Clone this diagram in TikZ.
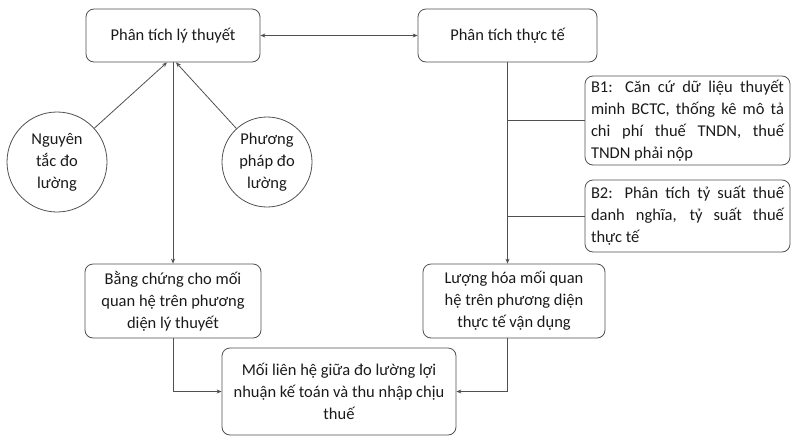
\documentclass[tikz,border=0pt]{standalone}
\usepackage{fontspec}
\setmainfont{Carlito}
\usetikzlibrary{arrows.meta,calc}
\definecolor{lin}{HTML}{505050}
\definecolor{txt}{HTML}{1A1A1A}
\tikzset{
  box/.style={draw=lin, line width=0.8pt, rounded corners=8pt, text=txt, align=center, inner sep=2pt},
  jbox/.style={draw=lin, line width=0.8pt, rounded corners=8pt, text=txt, align=justify, inner sep=2pt, text width=193pt},
  circ/.style={draw=lin, line width=0.8pt, circle, text=txt, align=center, inner sep=0pt},
  conn/.style={draw=lin, line width=0.8pt},
  arr/.style={conn, -{Stealth[length=5pt,width=4pt]}},
  darr/.style={conn, {Stealth[length=5pt,width=4pt]}-{Stealth[length=5pt,width=4pt]}}
}
\begin{document}
\begin{tikzpicture}[x=1pt,y=-1pt, font=\fontsize{16.5}{22}\selectfont]
\useasboundingbox (0,0) rectangle (792,437);
\node[box, minimum width=174pt, minimum height=53pt] (lt) at (173,35.5) {Phân tích lý thuyết};
\node[box, minimum width=179pt, minimum height=53pt] (tt) at (507.5,35.5) {Phân tích thực tế};
\node[jbox, minimum width=205pt, minimum height=89pt] (b1) at (687.5,120.5) {B1: Căn cứ dữ liệu thuyết\linebreak minh BCTC, thống kê mô tả\linebreak chi phí thuế TNDN, thuế\linebreak TNDN phải nộp};
\node[jbox, minimum width=205pt, minimum height=72pt] (b2) at (687.5,216) {B2: Phân tích tỷ suất thuế\linebreak danh nghĩa, tỷ suất thuế\linebreak thực tế};
\node[circ, minimum size=100pt] (ng) at (57,162) {Nguyên\\tắc đo\\lường};
\node[circ, minimum size=90pt] (pp) at (267,162) {Phương\\pháp đo\\lường};
\node[box, minimum width=176pt, minimum height=74pt] (bc) at (173,301) {Bằng chứng cho mối\\quan hệ trên phương\\diện lý thuyết};
\node[box, minimum width=182pt, minimum height=74pt] (lh) at (514,301) {Lượng hóa mối quan\\hệ trên phương diện\\thực tế vận dụng};
\node[box, minimum width=234pt, minimum height=87pt] (ml) at (339,391.5) {Mối liên hệ giữa đo lường lợi\\nhuận kế toán và thu nhập chịu\\thuế};
\coordinate (lta) at ($(lt.south)+(-6,0)$);
\coordinate (ltb) at ($(lt.south)+(3,0)$);
\draw[darr] (lt.east) -- (tt.west);
\draw[arr] (ng) -- (lta);
\draw[arr] (pp) -- (ltb);
\draw[arr] (lt.south) -- (bc.north);
\draw[arr] (tt.south) -- (tt.south |- lh.north);
\draw[conn] (tt.south |- b1.west) -- (b1.west);
\draw[conn] (tt.south |- b2.west) -- (b2.west);
\draw[arr] (bc.south) |- (ml.west);
\draw[arr] (tt.south |- lh.south) |- (ml.east);
\end{tikzpicture}
\end{document}
